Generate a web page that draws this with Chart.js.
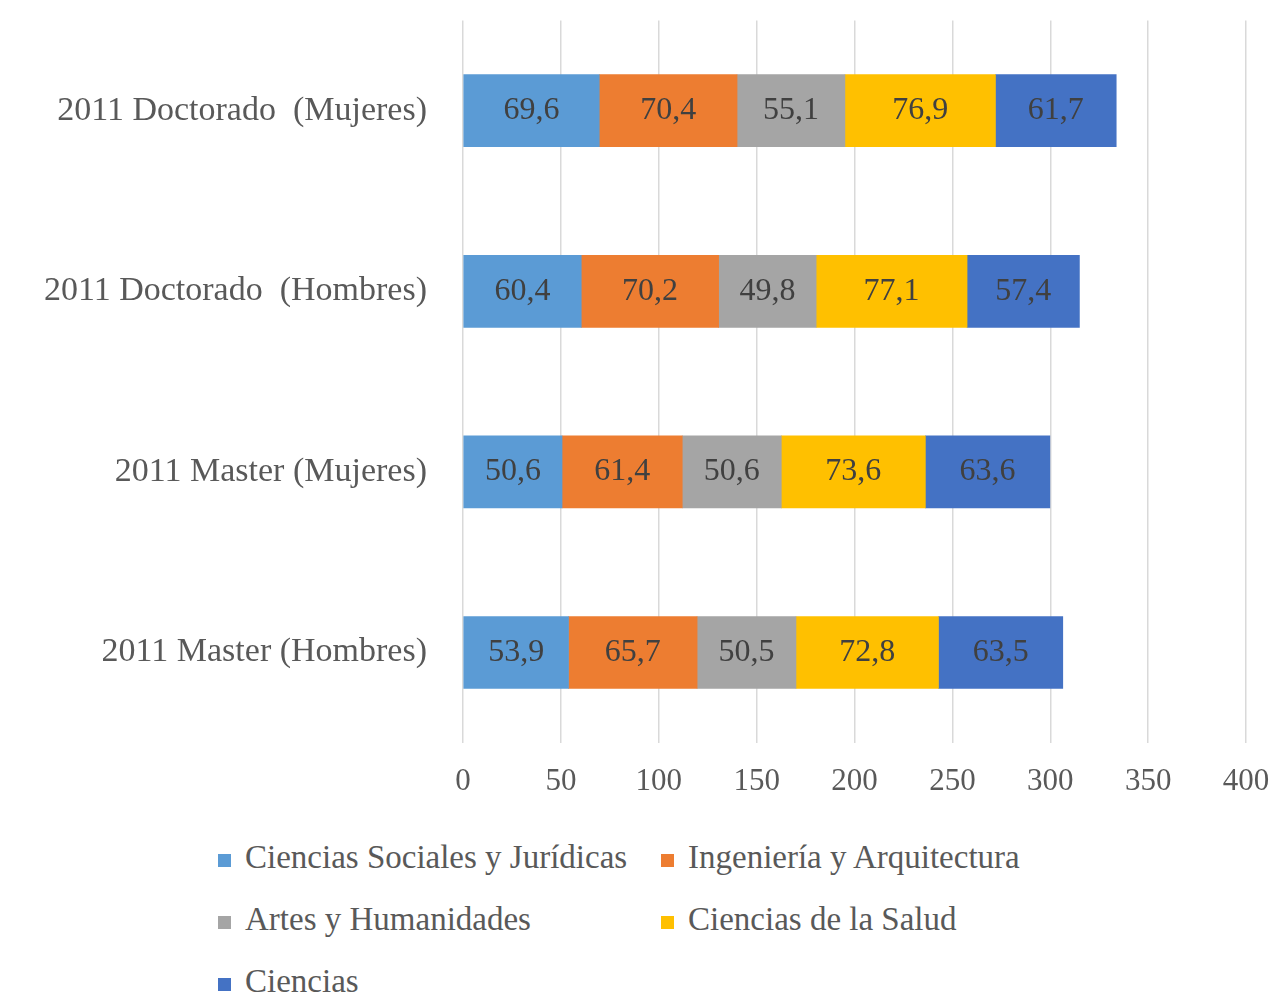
<!DOCTYPE html>
<html>
<head>
<meta charset="utf-8">
<script src="https://cdn.jsdelivr.net/npm/chart.js@4.4.0/dist/chart.umd.min.js"></script>
<style>
  body { margin: 0; background: #fff; }
  .wrap { position: relative; width: 1276px; height: 994px; }
  #chart { position: absolute; left: 0; top: 0; }
  .legend {
    position: absolute; left: 218px; top: 834px;
    display: grid; grid-template-columns: 443px 420px;
    grid-auto-rows: 62px;
    font-family: "Liberation Serif", "DejaVu Serif", serif;
    font-size: 33px; color: #595959;
  }
  .legend div { display: flex; align-items: center; height: 46px; white-space: nowrap; }
  .legend span.box { display: inline-block; width: 13px; height: 13px; margin-right: 14px; margin-top: 6px; }
</style>
</head>
<body>
<div class="wrap">
  <canvas id="chart" width="1276" height="800"></canvas>
  <div class="legend" id="legend"></div>
</div>
<script>
// categories and series
var categories = [
  "2011 Doctorado  (Mujeres)",
  "2011 Doctorado  (Hombres)",
  "2011 Master (Mujeres)",
  "2011 Master (Hombres)"
];
var seriesNames = [
  "Ciencias Sociales y Jurídicas",
  "Ingeniería y Arquitectura",
  "Artes y Humanidades",
  "Ciencias de la Salud",
  "Ciencias"
];
var sociales = [69.6, 60.4, 50.6, 53.9];
var ingenieria = [70.4, 70.2, 61.4, 65.7];
var artes = [55.1, 49.8, 50.6, 50.5];
var salud = [76.9, 77.1, 73.6, 72.8];
var ciencias = [61.7, 57.4, 63.6, 63.5];
var xTicks = [0, 50, 100, 150, 200, 250, 300, 350, 400];

var colors = ["#5B9BD5", "#ED7D31", "#A5A5A5", "#FFC000", "#4472C4"];
var values = [sociales, ingenieria, artes, salud, ciencias];
var serif = "'Liberation Serif', 'DejaVu Serif', serif";

// draw value labels inside each bar segment
var barLabels = {
  id: "barLabels",
  afterDatasetsDraw: function(chart) {
    var ctx = chart.ctx;
    ctx.save();
    ctx.font = "32px " + serif;
    ctx.fillStyle = "#404040";
    ctx.textAlign = "center";
    ctx.textBaseline = "middle";
    chart.data.datasets.forEach(function(ds, i) {
      chart.getDatasetMeta(i).data.forEach(function(bar, j) {
        var p = bar.getCenterPoint();
        ctx.fillText(ds.data[j].toFixed(1).replace(".", ","), p.x, p.y);
      });
    });
    ctx.restore();
  }
};

var ctx = document.getElementById("chart").getContext("2d");
var chart = new Chart(ctx, {
  type: "bar",
  data: {
    labels: categories,
    datasets: seriesNames.map(function(name, i) {
      return {
        label: name,
        data: values[i],
        backgroundColor: colors[i],
        barThickness: 72
      };
    })
  },
  options: {
    indexAxis: "y",
    responsive: false,
    animation: false,
    layout: { padding: { top: 0, right: 30, left: 0, bottom: 0 } },
    plugins: {
      legend: { display: false },
      tooltip: { enabled: false }
    },
    scales: {
      x: {
        stacked: true,
        min: 0,
        max: 400,
        afterBuildTicks: function(scale) {
          scale.ticks = xTicks.map(function(v) { return { value: v }; });
        },
        // tick length used as the gap under the plot, marks kept invisible
        grid: { color: "#D9D9D9", lineWidth: 1.5, drawTicks: true, tickLength: 20, tickColor: "rgba(0,0,0,0)" },
        border: { display: false },
        ticks: {
          padding: 0,
          color: "#595959",
          font: { family: serif, size: 31 }
        }
      },
      y: {
        stacked: true,
        afterFit: function(scale) { scale.width = 463; },
        grid: { display: false, drawTicks: true, tickLength: 36 },
        border: { display: false },
        ticks: {
          padding: 0,
          color: "#595959",
          font: { family: serif, size: 34 }
        }
      }
    }
  },
  plugins: [barLabels]
});

// legend laid out like the original (two columns)
var legend = document.getElementById("legend");
seriesNames.forEach(function(name, i) {
  var item = document.createElement("div");
  var box = document.createElement("span");
  box.className = "box";
  box.style.background = colors[i];
  item.appendChild(box);
  item.appendChild(document.createTextNode(name));
  legend.appendChild(item);
});
</script>
</body>
</html>
